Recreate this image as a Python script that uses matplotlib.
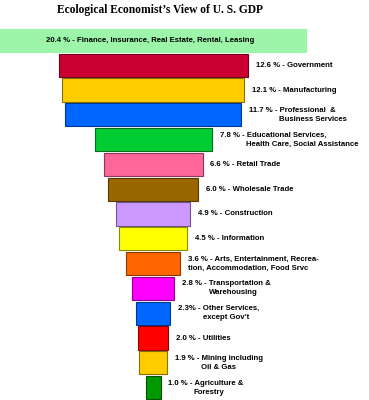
import numpy as np
import matplotlib.pyplot as plt
from matplotlib.colors import to_rgb

'''data'''
title = "Ecological Economist\u2019s View of U. S. GDP"
shares = [20.4, 12.6, 12.1, 11.7, 7.8, 6.6, 6.0, 4.9, 4.5, 3.6, 2.8, 2.3, 2.0, 1.9, 1.0]
share_text = ['20.4 %', '12.6 %', '12.1 %', '11.7 %', '7.8 %', '6.6 %', '6.0 %', '4.9 %',
              '4.5 %', '3.6 %', '2.8 %', '2.3%', '2.0 %', '1.9 %', '1.0 %']
sectors = [
    ['Finance, Insurance, Real Estate, Rental, Leasing'],
    ['Government'],
    ['Manufacturing'],
    ['Professional  &', 'Business Services'],
    ['Educational Services,', 'Health Care, Social Assistance'],
    ['Retail Trade'],
    ['Wholesale Trade'],
    ['Construction'],
    ['Information'],
    ['Arts, Entertainment, Recrea-', 'tion, Accommodation, Food Srvc'],
    ['Transportation &', 'Warehousing'],
    ['Other Services,', 'except Gov\u2019t'],
    ['Utilities'],
    ['Mining including', 'Oil & Gas'],
    ['Agriculture &', 'Forestry'],
]

'''style'''
colors = ['#9CF5A9', '#CC0033', '#FFCC00', '#0066FF', '#00CC33', '#FF6699', '#996600',
          '#CC99FF', '#FFFF00', '#FF6600', '#FF00FF', '#0066FF', '#FF0000', '#FFCC00', '#009900']
# indent of the second label line (pixels)
indents = [0, 0, 0, 30, 26, 0, 0, 0, 0, 0, 27, 25, 0, 26, 25]
label_font = ['Liberation Sans', 'DejaVu Sans']
label_size = 5.6
px_per_pct = 15.0
center_px = 153
top_px = 28
row_px = 24.8

W, H = 369, 400
fig = plt.figure(figsize=(W / 100, H / 100), dpi=100)
ax = fig.add_axes([0, 0, 1, 1])
ax.set_xlim(-center_px / px_per_pct, (W - center_px) / px_per_pct)
n = len(shares)
ax.set_ylim(-0.5 - top_px / row_px + H / row_px, -0.5 - top_px / row_px)
ax.axis('off')

vals = np.array(shares)
ypos = np.arange(n)
edges = [tuple(c * 0.55 for c in to_rgb(col)) for col in colors]
edges[0] = colors[0]  # the wide top bar has no dark rim
ax.barh(ypos, vals, left=-vals / 2, height=0.93, color=colors,
        edgecolor=edges, linewidth=0.8)

# labels
txt = dict(fontsize=label_size, fontweight='bold', family=label_font, color='black')
for i in range(n):
    if i == 0:
        ax.text(-0.2, ypos[i], f"{share_text[i]} - {sectors[i][0]}", ha='center', va='center', **txt)
        continue
    x = vals[i] / 2
    lines = sectors[i]
    first = f"{share_text[i]} - {lines[0]}"
    if len(lines) == 1:
        ax.annotate(first, (x, ypos[i]), xytext=(8, 0), textcoords='offset pixels',
                    ha='left', va='center', **txt)
    else:
        ax.annotate(first, (x, ypos[i]), xytext=(8, 4.5), textcoords='offset pixels',
                    ha='left', va='center', **txt)
        ax.annotate(lines[1], (x, ypos[i]), xytext=(8 + indents[i], -4.5), textcoords='offset pixels',
                    ha='left', va='center', **txt)

fig.text(160 / W, 1 - 10 / H, title, ha='center', va='center', fontsize=8.3,
         fontweight='bold', family=['Liberation Serif', 'DejaVu Serif'])

plt.savefig('out.png', dpi=100)
